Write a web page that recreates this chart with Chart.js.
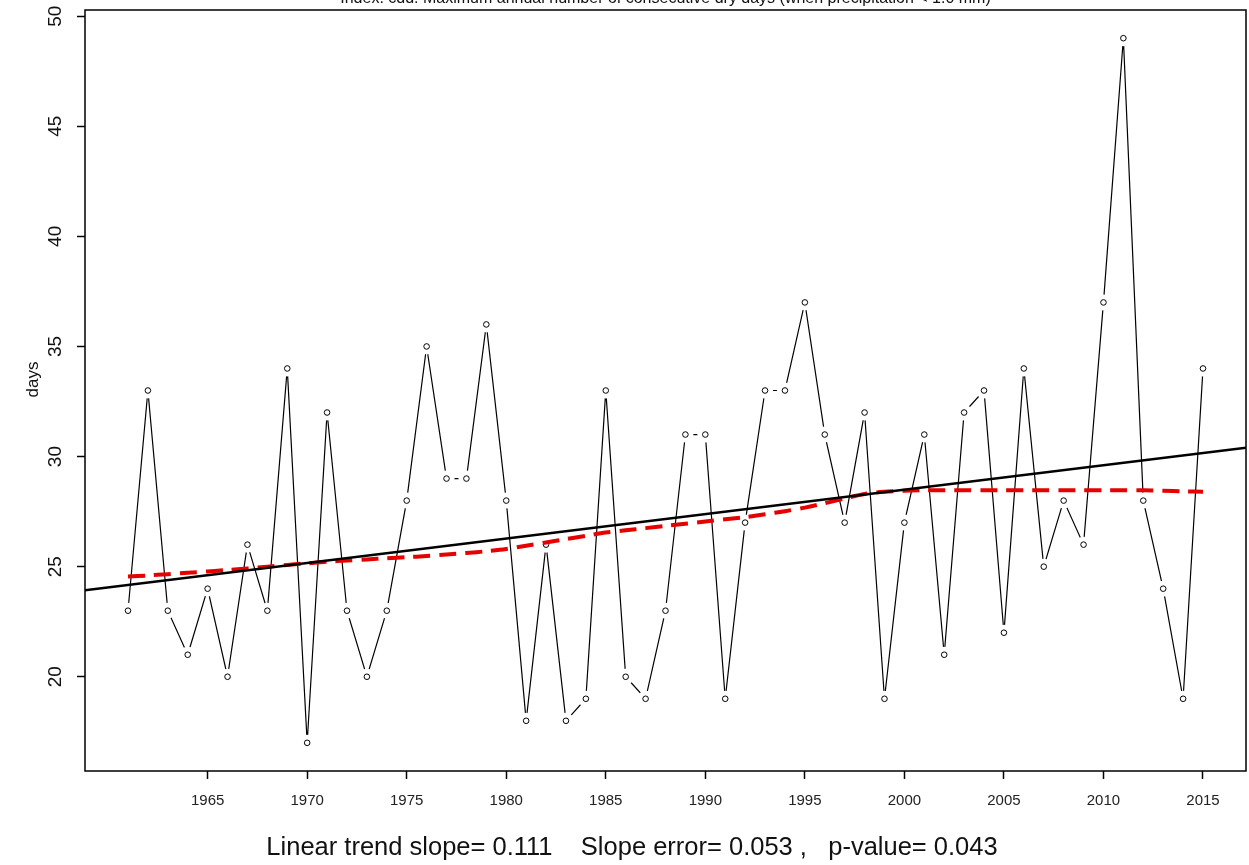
<!DOCTYPE html>
<html>
<head>
<meta charset="utf-8">
<script src="https://cdn.jsdelivr.net/npm/chart.js@4"></script>
<style>
  body { margin: 0; background: #fff; }
</style>
</head>
<body>
<canvas id="chart" width="1249" height="865"></canvas>
<script>
const years = [1961, 1962, 1963, 1964, 1965, 1966, 1967, 1968, 1969, 1970,
  1971, 1972, 1973, 1974, 1975, 1976, 1977, 1978, 1979, 1980,
  1981, 1982, 1983, 1984, 1985, 1986, 1987, 1988, 1989, 1990,
  1991, 1992, 1993, 1994, 1995, 1996, 1997, 1998, 1999, 2000,
  2001, 2002, 2003, 2004, 2005, 2006, 2007, 2008, 2009, 2010,
  2011, 2012, 2013, 2014, 2015];

const cdd = [23, 33, 23, 21, 24, 20, 26, 23, 34, 17,
  32, 23, 20, 23, 28, 35, 29, 29, 36, 28,
  18, 26, 18, 19, 33, 20, 19, 23, 31, 31,
  19, 27, 33, 33, 37, 31, 27, 32, 19, 27,
  31, 21, 32, 33, 22, 34, 25, 28, 26, 37,
  49, 28, 24, 19, 34];

// red dashed smooth curve
const smooth = [24.55, 24.6, 24.66, 24.72, 24.78, 24.85, 24.92, 25.0, 25.08, 25.15,
  25.22, 25.28, 25.33, 25.38, 25.43, 25.48, 25.55, 25.62, 25.7, 25.8,
  25.95, 26.1, 26.25, 26.4, 26.55, 26.65, 26.75, 26.85, 26.95, 27.05,
  27.15, 27.25, 27.38, 27.52, 27.68, 27.88, 28.1, 28.3, 28.4, 28.45,
  28.47, 28.47, 28.47, 28.47, 28.47, 28.47, 28.47, 28.47, 28.47, 28.47,
  28.47, 28.47, 28.45, 28.42, 28.4];

// black linear trend line, end points at the plot edges
const trendX = [1958.84, 2017.16];
const trendY = [23.93, 30.4];

const xTicks = [1965, 1970, 1975, 1980, 1985, 1990, 1995, 2000, 2005, 2010, 2015];
const yTicks = [20, 25, 30, 35, 40, 45, 50];

const title = "Index: cdd. Maximum annual number of consecutive dry days (when precipitation < 1.0 mm)";
const yTitle = "days";
const footer = "Linear trend slope= 0.111    Slope error= 0.053 ,   p-value= 0.043";

const pts = (xs, ys) => xs.map((x, i) => ({ x: x, y: ys[i] }));

const rPlot = {
  id: "rPlot",
  afterDraw(chart) {
    const c = chart.ctx;
    const a = chart.chartArea;
    const ys = chart.scales.y;
    c.save();
    c.strokeStyle = "#000";
    c.lineWidth = 1.5;
    c.strokeRect(a.left, a.top, a.right - a.left, a.bottom - a.top);

    c.fillStyle = "#111";
    c.font = "16px 'Liberation Sans', Arial";
    c.textAlign = "center";
    c.textBaseline = "bottom";
    c.fillText(title, (a.left + a.right) / 2, 7);

    // y tick labels, rotated like R
    c.font = "19px 'Liberation Sans', Arial";
    c.textBaseline = "middle";
    yTicks.forEach((v) => {
      c.save();
      c.translate(56, ys.getPixelForValue(v));
      c.rotate(-Math.PI / 2);
      c.fillText(String(v), 0, 0);
      c.restore();
    });

    c.font = "17px 'Liberation Sans', Arial";
    c.save();
    c.translate(33, ys.getPixelForValue(33.5));
    c.rotate(-Math.PI / 2);
    c.fillText(yTitle, 0, 0);
    c.restore();

    c.font = "25.5px 'Liberation Sans', Arial";
    c.fillText(footer, 632, 848);
    c.restore();
  }
};

new Chart(document.getElementById("chart"), {
  type: "line",
  data: {
    datasets: [
      {
        data: pts(trendX, trendY),
        borderColor: "#000",
        borderWidth: 2.5,
        pointRadius: 0,
        order: 0
      },
      {
        data: pts(years, smooth),
        borderColor: "#e60000",
        borderWidth: 4,
        borderDash: [17, 9],
        pointRadius: 0,
        tension: 0.3,
        order: 1
      },
      {
        data: pts(years, cdd),
        showLine: false,
        pointRadius: 2.8,
        pointBorderWidth: 1,
        pointBorderColor: "#000",
        pointBackgroundColor: "#fff",
        order: 2
      },
      {
        data: pts(years, cdd),
        showLine: false,
        pointRadius: 8,
        pointBorderWidth: 0,
        pointBackgroundColor: "#fff",
        order: 3
      },
      {
        data: pts(years, cdd),
        borderColor: "#000",
        borderWidth: 1.2,
        pointRadius: 0,
        tension: 0,
        order: 4
      }
    ]
  },
  options: {
    responsive: false,
    animation: false,
    events: [],
    layout: { autoPadding: false, padding: { top: 10, right: 3, left: 0, bottom: 0 } },
    plugins: {
      legend: { display: false },
      tooltip: { enabled: false },
      title: { display: false }
    },
    scales: {
      x: {
        type: "linear",
        min: 1958.84,
        max: 2017.16,
        afterBuildTicks: (s) => { s.ticks = xTicks.map((v) => ({ value: v })); },
        afterFit: (s) => { s.height = 94; s.paddingLeft = 0; s.paddingRight = 0; },
        grid: { drawOnChartArea: false, drawTicks: true, tickLength: 8, tickColor: "#000", tickWidth: 1.5 },
        border: { display: false },
        ticks: {
          padding: 13,
          maxRotation: 0,
          autoSkip: false,
          color: "#222",
          font: { family: "'Liberation Sans', Arial", size: 15 },
          callback: (v) => String(v)
        }
      },
      y: {
        type: "linear",
        min: 15.72,
        max: 50.28,
        afterBuildTicks: (s) => { s.ticks = yTicks.map((v) => ({ value: v })); },
        afterFit: (s) => { s.width = 85; },
        grid: { drawOnChartArea: false, drawTicks: true, tickLength: 8, tickColor: "#000", tickWidth: 1.5 },
        border: { display: false },
        ticks: { display: false }
      }
    }
  },
  plugins: [rPlot]
});
</script>
</body>
</html>
